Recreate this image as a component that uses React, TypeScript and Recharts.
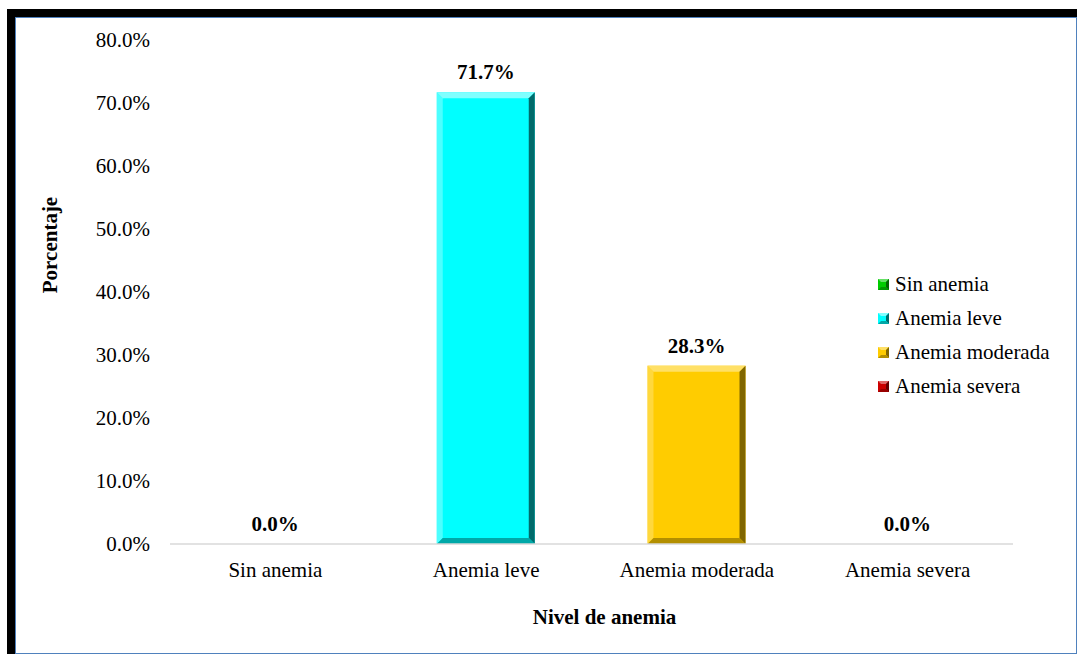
import { BarChart, Bar, XAxis, YAxis, Cell, LabelList, Legend, Label } from "recharts";

// categories and values
const categories = ["Sin anemia", "Anemia leve", "Anemia moderada", "Anemia severa"];
const percentages = [0.0, 71.7, 28.3, 0.0];
const yTicks = [0, 10, 20, 30, 40, 50, 60, 70, 80];

// face / light / dark colours per category
const FACE = ["#00CC00", "#00FFFF", "#FFCC00", "#CC0000"];
const LIGHT = ["#66E066", "#80FFFF", "#FFE066", "#E06666"];
const DARK = ["#006600", "#006B6B", "#806600", "#660000"];
const MID = ["#009900", "#00A8A8", "#B38F00", "#990000"];

const FONT = "'Liberation Serif', 'Times New Roman', serif";

const chartData = categories.map((name, i) => ({ name, value: percentages[i], idx: i }));

const pct = (v: number) => `${Number(v).toFixed(1)}%`;

// bar with a bevelled edge like the office "3D" bar style
const BevelBar = (props: any) => {
  const { x, y, width, height, payload } = props;
  if (!height || height <= 0) return null;
  const i = payload.idx;
  const b = Math.min(6, height / 2, width / 2);
  const x2 = x + width;
  const y2 = y + height;
  return (
    <g>
      <rect x={x} y={y} width={width} height={height} fill={FACE[i]} />
      <polygon points={`${x},${y} ${x2},${y} ${x2 - b},${y + b} ${x + b},${y + b}`} fill={LIGHT[i]} />
      <polygon points={`${x},${y} ${x + b},${y + b} ${x + b},${y2 - b} ${x},${y2}`} fill={LIGHT[i]} opacity={0.6} />
      <polygon points={`${x2},${y} ${x2},${y2} ${x2 - b},${y2 - b} ${x2 - b},${y + b}`} fill={DARK[i]} />
      <polygon points={`${x},${y2} ${x2},${y2} ${x2 - b},${y2 - b} ${x + b},${y2 - b}`} fill={MID[i]} />
    </g>
  );
};

const LegendIcon = ({ i }: { i: number }) => (
  <svg width={11} height={11} style={{ marginRight: 6, flex: "none" }}>
    <rect x={0} y={0} width={11} height={11} fill={FACE[i]} />
    <polygon points="0,0 11,0 8,3 3,3" fill={LIGHT[i]} />
    <polygon points="11,0 11,11 8,8 8,3" fill={DARK[i]} />
    <polygon points="0,11 11,11 8,8 3,8" fill={MID[i]} />
  </svg>
);

// zero-height wrapper so the legend does not shrink the plot
const renderLegend = () => (
  <div style={{ height: 0, overflow: "visible" }}>
    <div style={{ position: "absolute", left: 862, top: 249, fontFamily: FONT, fontSize: 21, color: "#000", whiteSpace: "nowrap" }}>
      {categories.map((c, i) => (
        <div key={c} style={{ display: "flex", alignItems: "center", height: 34 }}>
          <LegendIcon i={i} />
          <span>{c}</span>
        </div>
      ))}
    </div>
  </div>
);

export default function App() {
  return (
    <div
      style={{
        position: "absolute",
        left: 7,
        top: 9,
        borderTop: "8px solid #000",
        borderLeft: "8px solid #000",
      }}
    >
      <div style={{ width: 1060, height: 635, border: "1px solid #4F81BD", background: "#fff" }}>
        <BarChart
          width={1060}
          height={635}
          data={chartData}
          margin={{ top: 22, right: 63, left: 0, bottom: 79 }}
          barSize={98}
        >
          <XAxis
            dataKey="name"
            height={30}
            tickLine={false}
            axisLine={{ stroke: "#D9D9D9", strokeWidth: 1.5 }}
            tickMargin={12}
            tick={{ fontFamily: FONT, fontSize: 21, fill: "#000" }}
            interval={0}
          >
            <Label
              content={({ viewBox }: any) => (
                <text
                  x={viewBox.x + viewBox.width / 2 + 13}
                  y={viewBox.y + 80}
                  textAnchor="middle"
                  fontFamily={FONT}
                  fontSize={21}
                  fontWeight="bold"
                  fill="#000"
                >
                  Nivel de anemia
                </text>
              )}
            />
          </XAxis>
          <YAxis
            width={154}
            domain={[0, 80]}
            ticks={yTicks}
            interval={0}
            axisLine={false}
            tickLine={false}
            tickMargin={14}
            tickFormatter={pct}
            tick={{ fontFamily: FONT, fontSize: 21, fill: "#000" }}
          >
            <Label
              content={({ viewBox }: any) => (
                <text
                  x={34}
                  y={viewBox.y + viewBox.height / 2 - 47}
                  transform={`rotate(-90, 34, ${viewBox.y + viewBox.height / 2 - 47})`}
                  textAnchor="middle"
                  dominantBaseline="central"
                  fontFamily={FONT}
                  fontSize={21}
                  fontWeight="bold"
                  fill="#000"
                >
                  Porcentaje
                </text>
              )}
            />
          </YAxis>
          <Legend
            content={renderLegend}
            verticalAlign="bottom"
            wrapperStyle={{ left: 0, top: 0, width: 1060, height: 0 }}
          />
          <Bar dataKey="value" shape={BevelBar} isAnimationActive={false} legendType="square">
            {chartData.map((d) => (
              <Cell key={d.name} fill={FACE[d.idx]} />
            ))}
            <LabelList
              dataKey="value"
              position="top"
              offset={13}
              formatter={pct}
              style={{ fontFamily: FONT, fontSize: 21, fontWeight: "bold", fill: "#000" }}
            />
          </Bar>
        </BarChart>
      </div>
    </div>
  );
}
